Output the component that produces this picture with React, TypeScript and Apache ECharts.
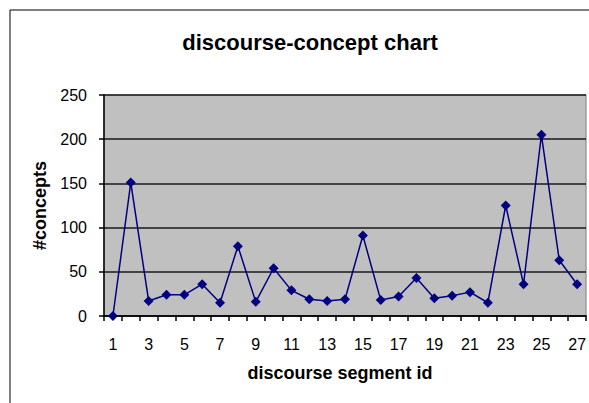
import React, { useEffect, useRef } from "react";
import * as echarts from "echarts";

const categories = ["1","2","3","4","5","6","7","8","9","10","11","12","13","14","15","16","17","18","19","20","21","22","23","24","25","26","27"];
const concepts = [0, 151, 17, 24, 24, 36, 15, 79, 16, 54, 29, 19, 17, 19, 91, 18, 22, 43, 20, 23, 27, 15, 125, 36, 205, 63, 36];
const yTicks = { min: 0, max: 250, interval: 50 };

export default function App() {
  const ref = useRef<HTMLDivElement>(null);
  useEffect(() => {
    const chart = echarts.init(ref.current!, undefined, { renderer: "svg" });
    const font = "Arial, 'Liberation Sans', sans-serif";
    chart.setOption({
      animation: false,
      backgroundColor: "#ffffff",
      title: {
        text: "discourse-concept chart",
        left: 305,
        textAlign: "center",
        top: 26,
        textStyle: { fontFamily: font, fontSize: 22, fontWeight: "bold", color: "#000" },
      },
      graphic: [
        {
          type: "rect",
          shape: { x: 10, y: 10, width: 620, height: 430 },
          style: { fill: "none", stroke: "#000", lineWidth: 1 },
          silent: true,
        },
      ],
      grid: {
        left: 104,
        top: 95,
        right: 2,
        bottom: 87,
        show: true,
        backgroundColor: "#c0c0c0",
        borderColor: "#808080",
        borderWidth: 1,
      },
      xAxis: {
        type: "category",
        data: categories,
        boundaryGap: true,
        name: "discourse segment id",
        nameLocation: "middle",
        nameGap: 48,
        nameTextStyle: { fontFamily: font, fontSize: 18, fontWeight: "bold", color: "#000", padding: [0, 10, 0, 0] },
        axisLine: { lineStyle: { color: "#000", width: 1.5 } },
        axisTick: { show: true, interval: 0, length: 5, lineStyle: { color: "#000", width: 1.5 } },
        axisLabel: { interval: 1, margin: 20, fontFamily: font, fontSize: 16, color: "#000" },
        splitLine: { show: false },
      },
      yAxis: {
        type: "value",
        min: yTicks.min,
        max: yTicks.max,
        interval: yTicks.interval,
        name: "#concepts",
        nameLocation: "middle",
        nameGap: 54,
        nameTextStyle: { fontFamily: font, fontSize: 18, fontWeight: "bold", color: "#000" },
        axisLine: { show: true, lineStyle: { color: "#000", width: 1.5 } },
        axisTick: { show: true, length: 5, lineStyle: { color: "#000", width: 1.5 } },
        axisLabel: { margin: 17, fontFamily: font, fontSize: 16, color: "#000" },
        splitLine: { show: true, lineStyle: { color: "#1a1a1a", width: 1.5 } },
      },
      series: [
        {
          type: "line",
          data: concepts,
          symbol: "diamond",
          symbolSize: 10,
          showAllSymbol: true,
          lineStyle: { color: "#000080", width: 1.5 },
          itemStyle: { color: "#000080" },
        },
      ],
    });
    return () => chart.dispose();
  }, []);
  return <div ref={ref} style={{ position: "absolute", left: 0, top: 0, width: 589, height: 403 }} />;
}
